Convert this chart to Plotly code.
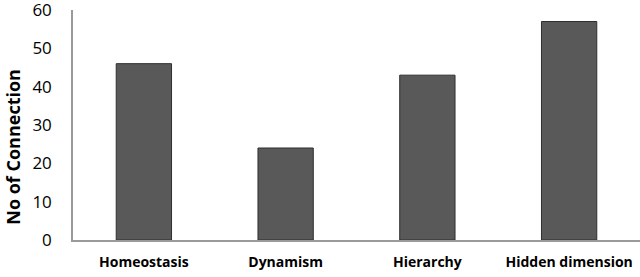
import plotly.graph_objects as go

categories = ["Homeostasis", "Dynamism", "Hierarchy", "Hidden dimension"]
values = [46, 24, 43, 57]
y_ticks = [0, 10, 20, 30, 40, 50, 60]
y_title = "No of Connection"

fig = go.Figure(go.Bar(
    x=categories, y=values,
    marker=dict(color="#595959", line=dict(color="#2e2e2e", width=1)),
    width=0.39,
))

fig.update_layout(
    width=640, height=277,
    margin=dict(l=73, r=0, t=10, b=37),
    paper_bgcolor="white", plot_bgcolor="white",
    showlegend=False,
    font=dict(family="Open Sans, Liberation Sans, sans-serif", color="black"),
)
fig.update_xaxes(
    showline=True, linecolor="#9a9a9a", linewidth=1.5,
    showgrid=False, ticks="", automargin=False,
    tickfont=dict(size=14, family="Open Sans", weight="bold"),
    ticklabelstandoff=8, ticklabeloverflow="allow",
    range=[-0.5, 3.5],
)
fig.update_yaxes(
    range=[0, 60], tickvals=y_ticks,
    showline=True, linecolor="#9a9a9a", linewidth=1.5,
    showgrid=False, ticks="", zeroline=False, automargin=False,
    tickfont=dict(size=17),
    ticklabelstandoff=16, ticklabeloverflow="allow",
)
fig.add_annotation(
    text=y_title, textangle=-90, showarrow=False,
    xref="paper", yref="paper", x=-0.106, y=0.405,
    xanchor="center", yanchor="middle",
    font=dict(size=18, weight="bold"),
)

fig.write_html("out.html", config={"displayModeBar": False},
               post_script="document.body.style.margin='0';")
